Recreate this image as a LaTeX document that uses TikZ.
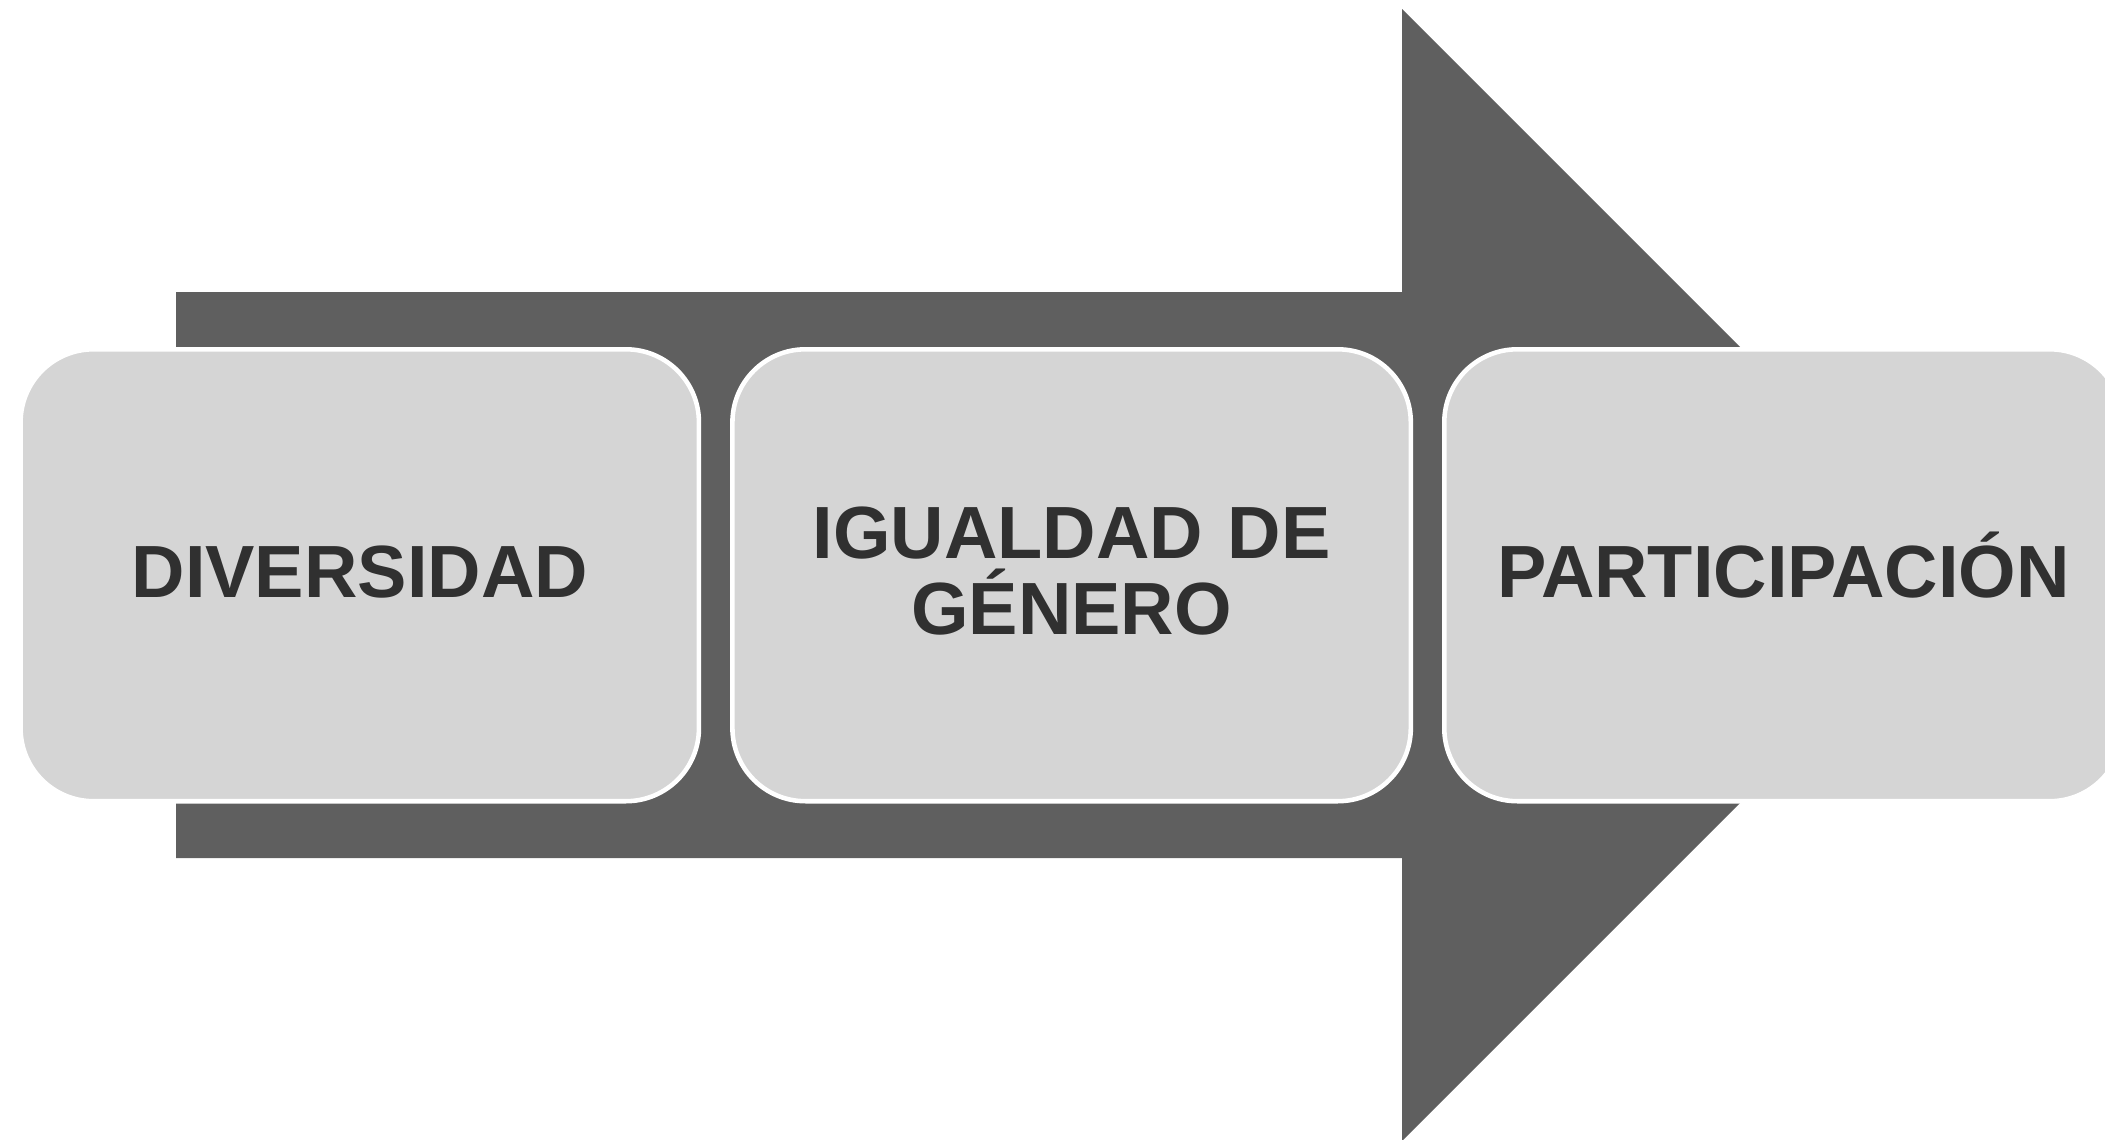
\documentclass[tikz,border=0pt]{standalone}
\usepackage{fontspec}
\setmainfont{Liberation Sans}
\usetikzlibrary{positioning}
\definecolor{arrowgray}{HTML}{5F5F5F}
\definecolor{boxgray}{HTML}{D5D5D5}
\definecolor{textgray}{HTML}{303030}
\begin{document}
\begin{tikzpicture}[x=0.02cm,y=-0.02cm,
    stage/.style={draw=white,fill=boxgray,line width=2.6pt,rounded corners=1.46cm,
      minimum width=13.57cm,minimum height=9.04cm,outer sep=0pt,inner sep=0pt,
      text=textgray,align=center,text width=13cm,
      text height=0.87cm,text depth=0pt,
      font=\fontsize{42.1}{43.8}\selectfont\bfseries},
    twoline/.style={text height=0pt,text depth=0.69cm},
    node distance=0.67cm,
  ]
\useasboundingbox (0,0) rectangle (2105,1139);
% big arrow behind the stages
\fill[arrowgray] (176,292) -- (1402,292) -- (1402,9) -- (1968,575)
  -- (1402,1141) -- (1402,858) -- (176,858) -- cycle;
\node[stage] (diver) at (359.75,575.25) {DIVERSIDAD};
\node[stage,twoline,right=of diver] (igual) {IGUALDAD DE\\GÉNERO};
\node[stage,right=of igual] (partic) {PARTICIPACIÓN};

\end{tikzpicture}
\end{document}
